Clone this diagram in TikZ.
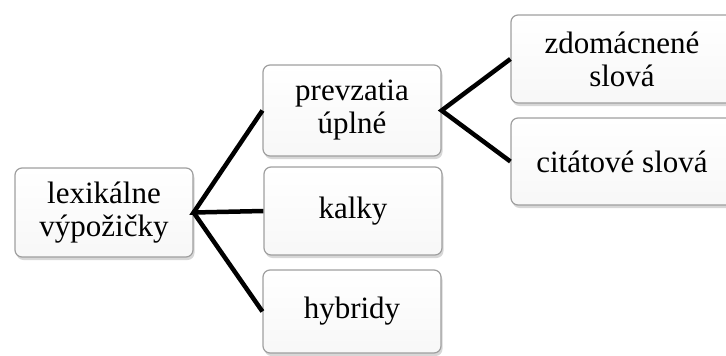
\documentclass[tikz,border=0pt]{standalone}
\usepackage{fontspec}
\setmainfont{Liberation Serif}
\usetikzlibrary{shadows}

\begin{document}
\begin{tikzpicture}[x=1pt, y=-1pt]
\tikzstyle{block} = [rectangle, rounded corners=7pt, draw=gray!75, line width=1.2pt, top color=white, bottom color=gray!6, minimum width=178pt, align=center, font=\fontsize{31}{33}\selectfont, drop shadow={shadow xshift=1.5pt, shadow yshift=-3pt, fill=gray!70, opacity=0.45}]
\tikzstyle{wideBlock} = [block, minimum width=222pt]
\tikzstyle{link} = [line width=4.5pt, black]
\useasboundingbox (0,0) rectangle (726,356);
\node (lex) at (104,212.5) [block, minimum height=89pt] {lexikálne\\výpožičky};
\node (prev) at (352,110.5) [block, minimum height=91pt] {prevzatia\\úplné};
\node (kalky) at (353,211) [block, minimum height=88pt] {kalky};
\node (hyb) at (352,311.5) [block, minimum height=83pt] {hybridy};
\node (zdom) at (622,59) [wideBlock, minimum height=88pt] {zdomácnené\\slová};
\node (cit) at (622,161.5) [wideBlock, minimum height=87pt] {citátové slová};
\draw[link] (prev.west) -- (lex.east) -- (kalky.west);
\draw[link] (lex.east) -- (hyb.west);
\draw[link] (zdom.west) -- (prev.east) -- (cit.west);
\end{tikzpicture}
\end{document}
